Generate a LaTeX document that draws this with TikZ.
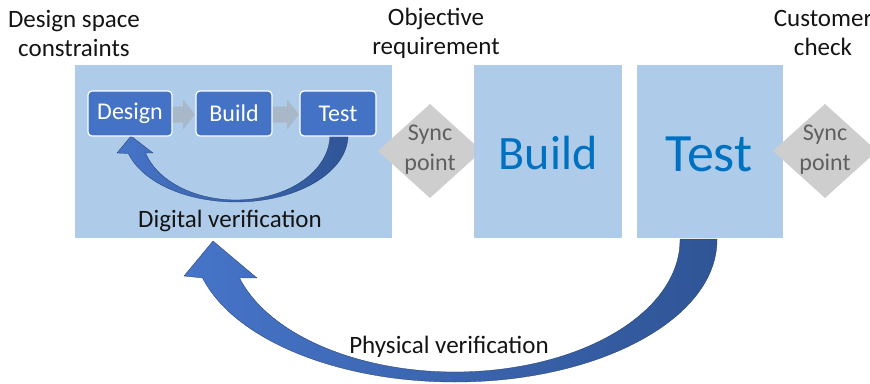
\documentclass[tikz,border=0pt]{standalone}
\usepackage{fontspec}
\setmainfont{Carlito}
\usetikzlibrary{calc,shapes.geometric}
\definecolor{lightbox}{RGB}{174,204,234}
\definecolor{darkbox}{RGB}{68,114,196}
\definecolor{syncgray}{RGB}{206,206,206}
\definecolor{synctext}{RGB}{95,95,95}
\definecolor{bigtext}{RGB}{0,112,192}
\definecolor{chev}{RGB}{168,184,200}
\definecolor{arrL}{RGB}{70,116,200}
\definecolor{arrR}{RGB}{47,85,150}
\definecolor{labtext}{RGB}{20,20,20}
\begin{document}
\begin{tikzpicture}[x=1pt,y=-1pt,
  every node/.style={inner sep=0pt, outer sep=0pt},
  bigbox/.style={fill=lightbox, minimum height=173pt},
  smallbox/.style={fill=darkbox, draw=white, line width=1.2pt, rounded corners=4pt,
     minimum height=45pt, text=white, font=\fontsize{24}{29}\selectfont},
  syncdia/.style={diamond, fill=syncgray, minimum width=104pt, minimum height=94pt},
  synclab/.style={align=center, text=synctext, font=\fontsize{24}{30}\selectfont},
  toplab/.style={align=center, text=labtext, font=\fontsize{25}{29}\selectfont},
  verlab/.style={text=labtext, font=\fontsize{25}{30}\selectfont},
  biglab/.style={text=bigtext, font=\fontsize{48}{56}\selectfont},
  chevfill/.style={fill=chev},
  curvearrow/.style={left color=arrL, middle color=arrL, right color=arrR}
]
\useasboundingbox (0,0) rectangle (870,383);

% digital verification box
\node[bigbox, minimum width=317pt] (dig) at (233.5,151.5) {};

% chevron arrows
\coordinate (c1a) at (172,114.5);
\coordinate (c1b) at (196,114.5);
\coordinate (c2a) at (272,114.5);
\coordinate (c2b) at (300,114.5);
\fill[chevfill] ($(c1a)+(-4,-8)$) -- ($(c1a)+(11,-8)$) -- ($(c1a)+(11,-15)$) -- ($(c1b)+(-1,0)$)
  -- ($(c1a)+(11,15)$) -- ($(c1a)+(11,8)$) -- ($(c1a)+(-4,8)$) -- cycle;
\fill[chevfill] ($(c2a)+(-4,-8)$) -- ($(c2a)+(15,-8)$) -- ($(c2a)+(15,-15)$) -- ($(c2b)+(-1,0)$)
  -- ($(c2a)+(15,15)$) -- ($(c2a)+(15,8)$) -- ($(c2a)+(-4,8)$) -- cycle;

% small curved arrow (Test -> Design)
\shade[curvearrow, draw=arrR!70!black, line width=0.3pt]
  (348,128) -- (348,135) arc[start angle=0, end angle=164, x radius=112, y radius=67]
  -- (117,153) -- (131,136) -- (153,153) -- (145.6,152.9)
  arc[start angle=164, end angle=0, x radius=94, y radius=65] -- (330,128) -- cycle;

% small boxes
\node[smallbox, minimum width=84pt] (d) at (130,113.5) {Design};
\node[smallbox, minimum width=76pt] (b) at (234,113.5) {Build};
\node[smallbox, minimum width=76pt] (t) at (338,113.5) {Test};

\node[verlab] (dv) at (230,221) {Digital verification};

% sync point 1 and build
\node[syncdia] (s1) at (430,151) {};
\node[bigbox, minimum width=148pt] (bb) at (548,151.5) {};
\node[bigbox, minimum width=146pt] (tb) at (710,151.5) {};
\node[syncdia] (s2) at (825,151) {};

\node[biglab] (bl) at (548,153) {Build};
\node[biglab, font=\fontsize{54}{60}\selectfont] (tl) at (709,154) {Test};
\node[synclab] (s1l) at (430,150) {Sync\\point};
\node[synclab] (s2l) at (825,150) {Sync\\point};

% top labels
\node[toplab] (l1) at (74,33) {Design space\\constraints};
\node[toplab] (l2) at (436,33) {Objective\\requirement};
\node[toplab] (l3) at (823,33) {Customer\\check};

% big curved arrow (Test -> digital verification)
\shade[curvearrow, draw=arrR!70!black, line width=0.3pt]
  (717,239) -- (717,240) arc[start angle=0, end angle=164.5, x radius=262, y radius=142]
  -- (184,276) -- (213,241) -- (257,278) -- (239.5,277.9)
  arc[start angle=163.3, end angle=0, x radius=225, y radius=132] -- (680,239) -- cycle;

\node[verlab] (pv) at (449,347) {Physical verification};
\end{tikzpicture}
\end{document}
